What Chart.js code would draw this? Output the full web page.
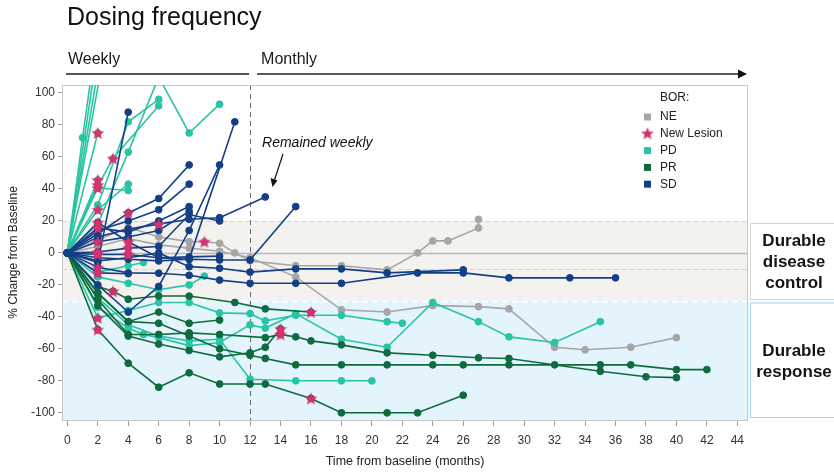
<!DOCTYPE html>
<html>
<head>
<meta charset="utf-8">
<title>Dosing frequency</title>
<script src="https://cdn.jsdelivr.net/npm/chart.js@4.4.1/dist/chart.umd.min.js"></script>
<style>
  html, body { margin: 0; padding: 0; background: #ffffff; }
  #wrap { width: 834px; height: 473px; position: relative; }
</style>
</head>
<body>
<div id="wrap"><canvas id="spider" width="834" height="473"></canvas></div>
<script>
// Axis ticks
const MONTH_TICKS = [0, 2, 4, 6, 8, 10, 12, 14, 16, 18, 20, 22, 24, 26, 28, 30, 32, 34, 36, 38, 40, 42, 44];
const PCT_TICKS = [-100, -80, -60, -40, -20, 0, 20, 40, 60, 80, 100];

// Reference bands (% change from baseline)
const CONTROL_BAND = [-30, 20];
const SD_LOWER = -10;
const SWITCH_MONTH = 12;

// Per-patient tracks: [month, % change], grouped by best overall response
const NE_TRACKS = [
  [[0,0],[2,8],[4,16],[6,10],[8,7],[9,7],[10,6],[11,0],[12,-5],[15,-8],[18,-8],[21,-10.6],[23,0],[24,7.5],[25,7.5],[27,15.6],[27,21]],
  [[0,0],[2,4],[4,9],[6,5],[8,3],[10,1],[12,-3],[15,-15],[18,-35.6],[21,-37],[24,-33],[27,-33.6],[29,-35],[32,-59],[34,-60.6],[37,-59],[40,-53]]
];

const PD_TRACKS = [
  [[0,0],[1,72],[2,140]],
  [[0,0],[2,128]],
  [[0,0],[3,171]],
  [[0,0],[3,155]],
  [[0,0],[2,18],[4,63],[6,110],[8,75],[10,93]],
  [[0,0],[2,30],[4,82],[6,96]],
  [[0,0],[2,75]],
  [[0,0],[2,42],[3,59],[6,92]],
  [[0,0],[2,45.6]],
  [[0,0],[2,42.5]],
  [[0,0],[2,40.6],[4,39]],
  [[0,0],[2,27],[4,43]],
  [[0,0],[2,-12],[4,-8],[5,-6]],
  [[0,0],[2,-15],[4,-19],[6,-23],[8,-20],[9,-14.5]],
  [[0,0],[2,-40.6],[4,-36],[6,-31],[8,-31],[10,-37.5],[12,-38],[13,-42.5],[15,-39],[18,-39],[21,-43],[22,-44]],
  [[0,0],[2,-34],[4,-47],[5,-51],[6,-53],[8,-58],[10,-56],[12,-45],[13,-47],[15,-38],[18,-54],[21,-59],[24,-31],[27,-43],[29,-52.5],[32,-56],[35,-43]],
  [[0,0],[2,-28],[4,-45],[6,-52],[8,-55],[10,-54],[12,-79],[15,-80],[18,-80],[20,-80]]
];

const PR_TRACKS = [
  [[0,0],[2,-48],[4,-69],[6,-84],[8,-75],[10,-82],[12,-82],[13,-82],[16,-91],[18,-100],[21,-100],[23,-100],[26,-89]],
  [[0,0],[2,-25],[4,-43],[6,-44],[8,-52],[10,-60],[12,-64],[13,-66],[15,-70],[18,-70],[21,-70],[24,-70],[26,-70],[29,-70],[32,-70],[35,-70],[37,-70],[40,-73],[42,-73]],
  [[0,0],[2,-29],[4,-51],[6,-51],[8,-50],[10,-51],[13,-53],[14,-51],[15,-52.5],[16,-55],[18,-57.5],[21,-62.5],[24,-64],[27,-65.6],[29,-66],[35,-74],[38,-77.5],[40,-78]],
  [[0,0],[2,-33],[4,-52],[6,-57],[8,-61],[10,-65],[12,-62.5],[13,-59],[14,-47.5]],
  [[0,0],[2,-21],[3,-24],[4,-29],[6,-27],[8,-27],[11,-31],[13,-35],[16,-37]],
  [[0,0],[2,-25],[4,-43],[6,-37],[8,-44],[10,-42]]
];

const SD_TRACKS = [
  [[0,0],[2,-6],[4,88]],
  [[0,0],[2,-1],[4,-1],[6,-3],[8,-4],[11,82]],
  [[0,0],[2,12],[4,25],[6,34],[8,55]],
  [[0,0],[2,-20],[4,-37],[6,-21],[8,14],[10,55]],
  [[0,0],[2,14],[4,20],[6,27],[8,43]],
  [[0,0],[2,10],[4,15],[6,18],[8,21],[10,22],[13,35]],
  [[0,0],[2,-3],[4,-4],[6,-5],[8,-4],[10,-4.4],[12,-4.4],[15,29]],
  [[0,0],[2,-5],[4,-3],[6,0],[8,-8.6],[10,-9.6],[12,-12],[15,-10],[18,-10],[21,-12.5],[26,-10.6]],
  [[0,0],[2,-9],[4,-12.5],[6,-12.7],[8,-14],[10,-17],[12,-19],[15,-19],[18,-19],[23,-12.5],[26,-12.5],[29,-15.6],[33,-15.6],[36,-15.6]],
  [[0,0],[2,15.6],[4,13],[6,20],[8,29]],
  [[0,0],[2,7],[4,10],[6,14],[8,26]],
  [[0,0],[2,0.6],[4,3],[6,4],[8,24],[10,20]],
  [[0,0],[2,19],[4,7],[6,-3],[8,-2.5],[10,-2]],
  [[0,0],[2,-12.5],[4,-13]]
];

// New lesion events: [month, % change]
const NEW_LESIONS = [
  [2,75],[3,59],[2,45.6],[2,42.5],[2,40.6],[2,27],[2,19],[2,15.6],[2,7],[2,0.6],[2,-1],
  [2,-9],[2,-12.5],[2,-40.6],[2,-48],[3,-24],[4,25],[4,7],[4,3],[4,-1],[6,18],[9,7],
  [14,-47.5],[14,-51],[16,-37],[16,-91]
];

const COLORS = { NE: '#a6a6a6', PD: '#29c4a4', PR: '#0f6b3d', SD: '#143f86', LESION: '#d7326e' };
const FONT = "'Liberation Sans', Arial, Helvetica, sans-serif";
Chart.defaults.font.family = FONT;

function starImage(size, color) {
  const c = document.createElement('canvas');
  c.width = c.height = size;
  const g = c.getContext('2d');
  const r = size / 2, ro = r - 0.3, ri = ro * 0.45;
  g.beginPath();
  for (let i = 0; i < 10; i++) {
    const a = -Math.PI / 2 + i * Math.PI / 5;
    const rr = i % 2 ? ri : ro;
    g.lineTo(r + rr * Math.cos(a), r + 0.6 + rr * Math.sin(a));
  }
  g.closePath();
  g.fillStyle = color;
  g.fill();
  return c;
}
const STAR = starImage(14, COLORS.LESION);

function trackDatasets(tracks, group, order) {
  return tracks.map(t => ({
    label: group,
    data: t.map(([x, y]) => ({ x, y })),
    showLine: true,
    borderColor: COLORS[group],
    backgroundColor: COLORS[group],
    pointBackgroundColor: COLORS[group],
    pointBorderColor: COLORS[group],
    borderWidth: 1.6,
    pointRadius: 3.4,
    pointBorderWidth: 1,
    order
  }));
}

const datasets = [
  { label: 'New Lesion', data: NEW_LESIONS.map(([x, y]) => ({ x, y })), showLine: false,
    pointStyle: STAR, pointRadius: 7, order: 0 },
  ...trackDatasets(SD_TRACKS, 'SD', 1),
  ...trackDatasets(PR_TRACKS, 'PR', 2),
  ...trackDatasets(PD_TRACKS, 'PD', 3),
  ...trackDatasets(NE_TRACKS, 'NE', 4)
];

// Plot background: response bands, reference lines, frame
const bandsPlugin = {
  id: 'bands',
  beforeDatasetsDraw(chart) {
    const { ctx, chartArea: a, scales: { x, y } } = chart;
    ctx.save();
    ctx.fillStyle = '#ffffff';
    ctx.fillRect(a.left, a.top, a.width, a.height);
    const yTop = y.getPixelForValue(CONTROL_BAND[1]);
    const yBot = y.getPixelForValue(CONTROL_BAND[0]);
    ctx.fillStyle = '#f3f2ef';
    ctx.fillRect(a.left, yTop, a.width, yBot - yTop);
    ctx.fillStyle = '#e3f4fc';
    ctx.fillRect(a.left, yBot, a.width, a.bottom - yBot);

    const hline = (v, color, width, dash) => {
      const py = Math.round(y.getPixelForValue(v)) + 0.5;
      ctx.strokeStyle = color; ctx.lineWidth = width; ctx.setLineDash(dash);
      ctx.beginPath(); ctx.moveTo(a.left, py); ctx.lineTo(a.right, py); ctx.stroke();
    };
    hline(CONTROL_BAND[1], '#d2d2d2', 1.2, [5, 3]);
    hline(SD_LOWER, '#d2d2d2', 1.2, [5, 3]);
    hline(CONTROL_BAND[0], '#ffffff', 1.5, [6, 4]);
    hline(0, '#b9b9b9', 1.6, []);

    const px = Math.round(x.getPixelForValue(SWITCH_MONTH)) + 0.5;
    ctx.strokeStyle = '#666666'; ctx.lineWidth = 1; ctx.setLineDash([5, 4]);
    ctx.beginPath(); ctx.moveTo(px, a.top); ctx.lineTo(px, a.bottom); ctx.stroke();

    ctx.setLineDash([]);
    ctx.strokeStyle = '#c6c6c6'; ctx.lineWidth = 1;
    ctx.strokeRect(a.left + 0.5, a.top + 0.5, a.width - 1, a.height);
    ctx.restore();
  }
};

// Header, legend and side annotations
const annotatePlugin = {
  id: 'annotate',
  afterDraw(chart) {
    const { ctx, chartArea: a, scales: { x, y } } = chart;
    ctx.save();
    ctx.textBaseline = 'alphabetic';
    ctx.textAlign = 'left';

    // Header
    ctx.fillStyle = '#111111';
    ctx.font = `25px ${FONT}`;
    ctx.fillText('Dosing frequency', 67, 25);
    ctx.font = `16px ${FONT}`;
    ctx.fillStyle = '#1a1a1a';
    ctx.fillText('Weekly', 68, 64);
    const xSwitch = x.getPixelForValue(SWITCH_MONTH);
    ctx.fillText('Monthly', xSwitch + 11, 64);

    ctx.strokeStyle = '#555555'; ctx.lineWidth = 2;
    ctx.beginPath(); ctx.moveTo(a.left + 4, 74); ctx.lineTo(xSwitch - 1, 74); ctx.stroke();
    ctx.strokeStyle = '#222222'; ctx.lineWidth = 1.4;
    ctx.beginPath(); ctx.moveTo(xSwitch + 7, 74); ctx.lineTo(a.right - 6, 74); ctx.stroke();
    ctx.fillStyle = '#111111';
    ctx.beginPath(); ctx.moveTo(a.right - 1, 74); ctx.lineTo(a.right - 10, 69.5); ctx.lineTo(a.right - 10, 78.5); ctx.closePath(); ctx.fill();

    // Annotation for patients kept on weekly dosing
    ctx.font = `italic 14px ${FONT}`;
    ctx.fillStyle = '#111111';
    ctx.textBaseline = 'middle';
    ctx.fillText('Remained weekly', xSwitch + 12, 143);
    ctx.strokeStyle = '#111111'; ctx.lineWidth = 1.2;
    ctx.beginPath(); ctx.moveTo(283, 154); ctx.lineTo(274.5, 180); ctx.stroke();
    ctx.beginPath(); ctx.moveTo(272.5, 187); ctx.lineTo(270.5, 178); ctx.lineTo(277.5, 180.5); ctx.closePath(); ctx.fill();

    // Legend
    ctx.font = `12px ${FONT}`;
    ctx.fillStyle = '#222222';
    ctx.fillText('BOR:', 660, 98);
    const items = [['NE', COLORS.NE], ['New Lesion', null], ['PD', COLORS.PD], ['PR', COLORS.PR], ['SD', COLORS.SD]];
    items.forEach(([name, color], i) => {
      const cy = 117 + i * 16.8;
      if (color) { ctx.fillStyle = color; ctx.fillRect(644, cy - 3.5, 7, 7); }
      else { ctx.drawImage(STAR, 640.5, cy - 7.5); }
      ctx.fillStyle = '#222222';
      ctx.fillText(name, 660, cy);
    });

    // Side boxes
    const boxLeft = a.right + 2.5;
    const dcTop = Math.round(y.getPixelForValue(CONTROL_BAND[1])) + 2.5;
    const dcBot = Math.round(y.getPixelForValue(CONTROL_BAND[0])) - 1.5;
    ctx.fillStyle = '#ffffff';
    ctx.fillRect(boxLeft, dcTop, 120, dcBot - dcTop);
    ctx.strokeStyle = '#d4d4d4'; ctx.lineWidth = 1;
    ctx.strokeRect(boxLeft, dcTop, 120, dcBot - dcTop);
    const rTop = dcBot + 3.5, rBot = a.bottom - 2.5;
    ctx.fillRect(boxLeft, rTop, 120, rBot - rTop);
    ctx.strokeStyle = '#a8d6ee';
    ctx.strokeRect(boxLeft, rTop, 120, rBot - rTop);

    ctx.font = `bold 17px ${FONT}`;
    ctx.fillStyle = '#141414';
    ctx.textAlign = 'center';
    const cx = 794;
    ctx.fillText('Durable', cx, 241);
    ctx.fillText('disease', cx, 262);
    ctx.fillText('control', cx, 283);
    ctx.fillText('Durable', cx, 351);
    ctx.fillText('response', cx, 372);
    ctx.restore();
  }
};

new Chart(document.getElementById('spider'), {
  type: 'scatter',
  data: { datasets },
  options: {
    responsive: false,
    animation: false,
    devicePixelRatio: 1,
    layout: { padding: { top: 85, right: 86, left: 0, bottom: 0 } },
    plugins: { legend: { display: false }, tooltip: { enabled: false }, title: { display: false } },
    scales: {
      x: {
        type: 'linear', min: -0.35, max: 44.7,
        afterBuildTicks: s => { s.ticks = MONTH_TICKS.map(v => ({ value: v })); },
        afterFit: s => { s.height = 53; },
        grid: { drawOnChartArea: false, drawTicks: true, tickLength: 6, color: '#a0a0a0' },
        border: { display: false },
        ticks: { padding: 7, color: '#333333', font: { size: 12 }, maxRotation: 0, autoSkip: false },
        title: { display: true, text: 'Time from baseline (months)', color: '#222222',
                 font: { size: 12.5 }, padding: { top: 0, bottom: 4 } }
      },
      y: {
        type: 'linear', min: -104.5, max: 105,
        afterBuildTicks: s => { s.ticks = PCT_TICKS.map(v => ({ value: v })); },
        afterFit: s => { s.width = 62; },
        grid: { drawOnChartArea: false, drawTicks: true, tickLength: 4, color: '#a0a0a0' },
        border: { display: false },
        ticks: { padding: 3, color: '#333333', font: { size: 12 }, autoSkip: false },
        title: { display: true, text: '% Change from Baseline', color: '#222222',
                 font: { size: 12 }, padding: { top: 6, bottom: 0 } }
      }
    }
  },
  plugins: [bandsPlugin, annotatePlugin]
});
</script>
</body>
</html>
